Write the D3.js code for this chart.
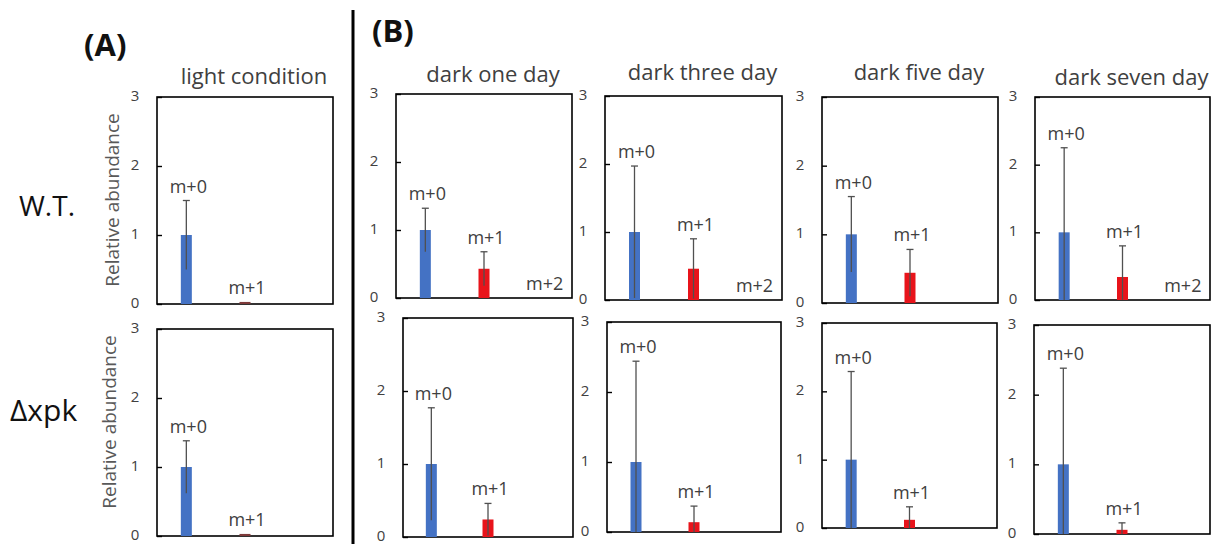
<!DOCTYPE html>
<html>
<head>
<meta charset="utf-8">
<script src="https://cdn.jsdelivr.net/npm/d3@7"></script>
<style>
  body { margin: 0; background: #fff; }
  svg { display: block; font-family: "Open Sans", sans-serif; }
</style>
</head>
<body>
<svg width="1219" height="544"></svg>
<script>
// --- data ---
const categories = ["m+0", "m+1", "m+2"];
const conditions = ["light condition", "dark one day", "dark three day", "dark five day", "dark seven day"];
const strains = ["W.T.", "Δxpk"];
const yTicks = [0, 1, 2, 3];

// mean per condition: [m+0, m+1, m+2]  (null = no bar / no label)
const wtMean  = [[1, 0.03, null], [1, 0.43, 0], [1, 0.46, 0], [1, 0.44, null], [1, 0.34, 0]];
const wtErr   = [[0.5, 0, 0], [0.32, 0.25, 0], [0.97, 0.44, 0], [0.55, 0.34, 0], [1.25, 0.46, 0]];
const xpkMean = [[1, 0.03, null], [1, 0.24, null], [1, 0.14, null], [1, 0.12, null], [1, 0.06, null]];
const xpkErr  = [[0.38, 0, 0], [0.77, 0.22, 0], [1.44, 0.23, 0], [1.29, 0.19, 0], [1.38, 0.1, 0]];

// --- layout (frame boxes x0,y0,x1,y1 for each panel, the source is a pasted composite) ---
const topBoxes = [[157, 97, 333, 304], [396, 94, 572, 298], [605, 96, 782, 300], [822, 97, 998, 303], [1035, 97, 1210, 300]];
const botBoxes = [[157, 329, 333, 536], [403, 318, 573, 537], [607, 322, 781, 532], [822, 323, 997, 528], [1034, 325, 1210, 534]];
const titleY = [84, 82, 80, 80, 85];

const blue = "#4472c4",
      red = "#e8141b",
      darkRed = "#7e3a3a",
      errCol = "#505050",
      txt = "#404040";

const svg = d3.select("svg");

function panel(box, means, errs, ci) {
  const [x0, y0, x1, y1] = box;
  const g = svg.append("g");

  const x = d3.scaleBand().domain(categories).range([x0, x1]);
  const y = d3.scaleLinear().domain([0, 3]).range([y1, y0]);
  const bw = 11;

  // frame
  g.append("rect")
    .attr("x", x0).attr("y", y0)
    .attr("width", x1 - x0).attr("height", y1 - y0)
    .attr("fill", "none").attr("stroke", "#000").attr("stroke-width", 1.6);

  // y axis (ticks inside the frame)
  const ax = g.append("g")
    .attr("transform", "translate(" + x0 + ",0)")
    .call(d3.axisRight(y).tickValues(yTicks).tickSize(5).tickFormat(""));
  ax.select(".domain").remove();
  ax.selectAll("line").attr("stroke", "#000").attr("stroke-width", 1.4);

  g.selectAll(".tl")
    .data(yTicks)
    .enter().append("text")
    .attr("x", x0 - 22)
    .attr("y", d => y(d) + 4)
    .attr("text-anchor", "middle")
    .attr("font-size", 15)
    .attr("fill", txt)
    .text(d => d);

  const data = categories.map((c, i) => ({ c: c, v: means[i], e: errs[i], i: i }))
    .filter(d => d.v !== null);

  g.selectAll(".bar")
    .data(data)
    .enter().append("rect")
    .attr("x", d => x(d.c) + x.bandwidth() / 2 - bw / 2)
    .attr("y", d => y(d.v))
    .attr("width", bw)
    .attr("height", d => y(0) - y(d.v))
    .attr("fill", d => d.i === 0 ? blue : (ci === 0 ? darkRed : red));

  const eb = data.filter(d => d.e > 0);
  g.selectAll(".err")
    .data(eb)
    .enter().append("line")
    .attr("x1", d => x(d.c) + x.bandwidth() / 2)
    .attr("x2", d => x(d.c) + x.bandwidth() / 2)
    .attr("y1", d => y(Math.max(0, d.v - d.e)))
    .attr("y2", d => y(d.v + d.e))
    .attr("stroke", errCol).attr("stroke-width", 1.3);
  g.selectAll(".cap")
    .data(eb)
    .enter().append("line")
    .attr("x1", d => x(d.c) + x.bandwidth() / 2 - 3.5)
    .attr("x2", d => x(d.c) + x.bandwidth() / 2 + 3.5)
    .attr("y1", d => y(d.v + d.e))
    .attr("y2", d => y(d.v + d.e))
    .attr("stroke", errCol).attr("stroke-width", 1.3);

  g.selectAll(".lbl")
    .data(data)
    .enter().append("text")
    .attr("x", d => x(d.c) + x.bandwidth() / 2 + 2)
    .attr("y", d => y(d.v + d.e) - 8)
    .attr("text-anchor", "middle")
    .attr("font-size", 18)
    .attr("fill", txt)
    .text(d => d.c);

  return g;
}

conditions.forEach(function(cond, ci) {
  panel(topBoxes[ci], wtMean[ci], wtErr[ci], ci);
  panel(botBoxes[ci], xpkMean[ci], xpkErr[ci], ci);

  const b = topBoxes[ci];
  svg.append("text")
    .attr("x", (b[0] + b[2]) / 2 + 9)
    .attr("y", titleY[ci])
    .attr("text-anchor", "middle")
    .attr("font-size", 22)
    .attr("fill", txt)
    .text(cond);
});

// y axis titles, panel A only
[[113, 200], [110, 422]].forEach(function(p) {
  svg.append("text")
    .attr("transform", "translate(" + (p[0] + 6) + "," + p[1] + ") rotate(-90)")
    .attr("text-anchor", "middle")
    .attr("font-size", 19)
    .attr("fill", "#595959")
    .text("Relative abundance");
});

// row labels
svg.append("text").attr("x", 19).attr("y", 216)
  .attr("font-size", 28).attr("fill", "#111").text(strains[0]);
svg.append("text").attr("x", 10).attr("y", 421)
  .attr("font-size", 30).attr("fill", "#111").text(strains[1]);

// panel letters
svg.append("text").attr("x", 84).attr("y", 56)
  .attr("font-size", 31).attr("font-weight", "bold").attr("fill", "#111").text("(A)");
svg.append("text").attr("x", 372).attr("y", 42)
  .attr("font-size", 31).attr("font-weight", "bold").attr("fill", "#111").text("(B)");

// divider between A and B
svg.append("line")
  .attr("x1", 353).attr("x2", 353)
  .attr("y1", 10).attr("y2", 544)
  .attr("stroke", "#000").attr("stroke-width", 3);
</script>
</body>
</html>
